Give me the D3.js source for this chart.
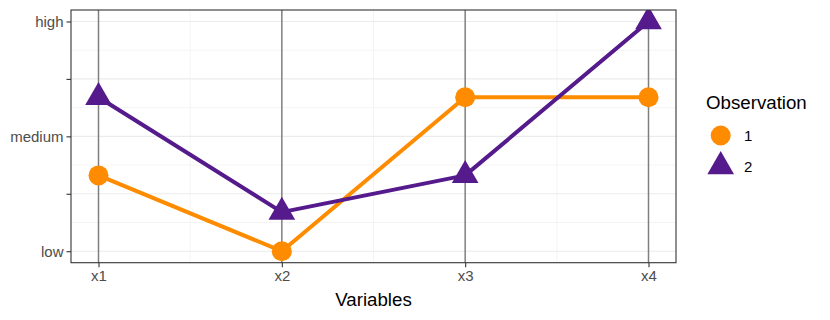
<!DOCTYPE html>
<html>
<head>
<meta charset="utf-8">
<script src="https://cdn.jsdelivr.net/npm/d3@7"></script>
<style>
  body { margin: 0; background: #fff; }
  text { font-family: "Liberation Sans", Arial, sans-serif; }
</style>
</head>
<body>
<div id="chart"></div>
<script>
let variables = ['x1', 'x2', 'x3', 'x4']
let observations = ['1', '2']
let obs1 = [0.33, 0, 0.67, 0.67]
let obs2 = [0.67, 0.17, 0.33, 1]
let yTicks = [0, 0.25, 0.5, 0.75, 1]
let yTickLabels = ['low', '', 'medium', '', 'high']
let yMinor = [0.125, 0.375, 0.625, 0.875]
let xMinor = [1.5, 2.5, 3.5]
let colors = ['#FF8C00', '#551A8B']

let width = 830
let height = 320
let panel = {left: 71, right: 676, top: 10, bottom: 262.7}

let svg = d3.select('#chart')
  .append('svg')
    .attr('width', width)
    .attr('height', height)

let x = d3.scaleLinear().domain([0.85, 4.15]).range([panel.left, panel.right])
let y = d3.scaleLinear().domain([-0.05, 1.05]).range([panel.bottom, panel.top])

svg.append('clipPath').attr('id', 'clip')
  .append('rect')
    .attr('x', panel.left).attr('y', panel.top)
    .attr('width', panel.right - panel.left)
    .attr('height', panel.bottom - panel.top)

let g = svg.append('g').attr('clip-path', 'url(#clip)')

// grid
g.selectAll('.yminor').data(yMinor).enter().append('line')
  .attr('x1', panel.left).attr('x2', panel.right)
  .attr('y1', d => y(d)).attr('y2', d => y(d))
  .attr('stroke', '#EBEBEB').attr('stroke-width', 0.55)
g.selectAll('.xminor').data(xMinor).enter().append('line')
  .attr('y1', panel.top).attr('y2', panel.bottom)
  .attr('x1', d => x(d)).attr('x2', d => x(d))
  .attr('stroke', '#EBEBEB').attr('stroke-width', 0.55)
g.selectAll('.ymajor').data(yTicks).enter().append('line')
  .attr('x1', panel.left).attr('x2', panel.right)
  .attr('y1', d => y(d)).attr('y2', d => y(d))
  .attr('stroke', '#EBEBEB').attr('stroke-width', 1.1)

// parallel axes
g.selectAll('.paxis').data(variables).enter().append('line')
  .attr('x1', (d, i) => x(i + 1)).attr('x2', (d, i) => x(i + 1))
  .attr('y1', panel.top).attr('y2', panel.bottom)
  .attr('stroke', '#7F7F7F').attr('stroke-width', 1.5)

let series = [obs1, obs2]
let line = d3.line().x((d, i) => x(i + 1)).y(d => y(d))

series.forEach((s, k) => {
  g.append('path')
    .datum(s)
    .attr('d', line)
    .attr('fill', 'none')
    .attr('stroke', colors[k])
    .attr('stroke-width', 4)
    .attr('stroke-linejoin', 'round')
})

let circle = d3.symbol().type(d3.symbolCircle).size(Math.PI * 10 * 10)
let triSize = 15.4
let tri = () => {
  let r = triSize
  let xc = r * Math.sqrt(3) / 2
  return `M0,${-r}L${xc},${r / 2}L${-xc},${r / 2}Z`
}

g.selectAll('.p1').data(obs1).enter().append('path')
  .attr('d', circle)
  .attr('transform', (d, i) => `translate(${x(i + 1)},${y(d)})`)
  .attr('fill', colors[0])
g.selectAll('.p2').data(obs2).enter().append('path')
  .attr('d', tri)
  .attr('transform', (d, i) => `translate(${x(i + 1)},${y(d)})`)
  .attr('fill', colors[1])

// panel border
svg.append('rect')
  .attr('x', panel.left).attr('y', panel.top)
  .attr('width', panel.right - panel.left)
  .attr('height', panel.bottom - panel.top)
  .attr('fill', 'none').attr('stroke', '#333333').attr('stroke-width', 1.1)

// axes
let yAxis = d3.axisLeft(y)
  .tickValues(yTicks)
  .tickFormat((d, i) => yTickLabels[i])
  .tickSize(4.5)
  .tickPadding(3)
let ya = svg.append('g').attr('transform', `translate(${panel.left},0)`).call(yAxis)
ya.select('.domain').remove()
ya.selectAll('line').attr('stroke', '#333333').attr('stroke-width', 1.1)
ya.selectAll('text').attr('fill', '#4D4D4D').style('font-size', '15px')

let xAxis = d3.axisBottom(x)
  .tickValues([1, 2, 3, 4])
  .tickFormat((d, i) => variables[i])
  .tickSize(4.5)
  .tickPadding(3)
let xa = svg.append('g').attr('transform', `translate(0,${panel.bottom})`).call(xAxis)
xa.select('.domain').remove()
xa.selectAll('line').attr('stroke', '#333333').attr('stroke-width', 1.1)
xa.selectAll('text').attr('fill', '#4D4D4D').style('font-size', '15px')

svg.append('text')
  .attr('x', (panel.left + panel.right) / 2)
  .attr('y', 306)
  .attr('text-anchor', 'middle')
  .style('font-size', '18.7px')
  .text('Variables')

// legend
let legend = svg.append('g')
legend.append('text')
  .attr('x', 706).attr('y', 109)
  .style('font-size', '18.7px')
  .text('Observation')

let ly = d3.scaleBand().domain(observations).range([120, 182])
legend.selectAll('.lsym').data(observations).enter().append('path')
  .attr('d', (d, i) => i === 0 ? circle() : tri())
  .attr('transform', d => `translate(720.7,${ly(d) + ly.bandwidth() / 2})`)
  .attr('fill', (d, i) => colors[i])
legend.selectAll('.llab').data(observations).enter().append('text')
  .attr('x', 744)
  .attr('y', d => ly(d) + ly.bandwidth() / 2)
  .attr('dy', '0.35em')
  .style('font-size', '15px')
  .text(d => d)
</script>
</body>
</html>
